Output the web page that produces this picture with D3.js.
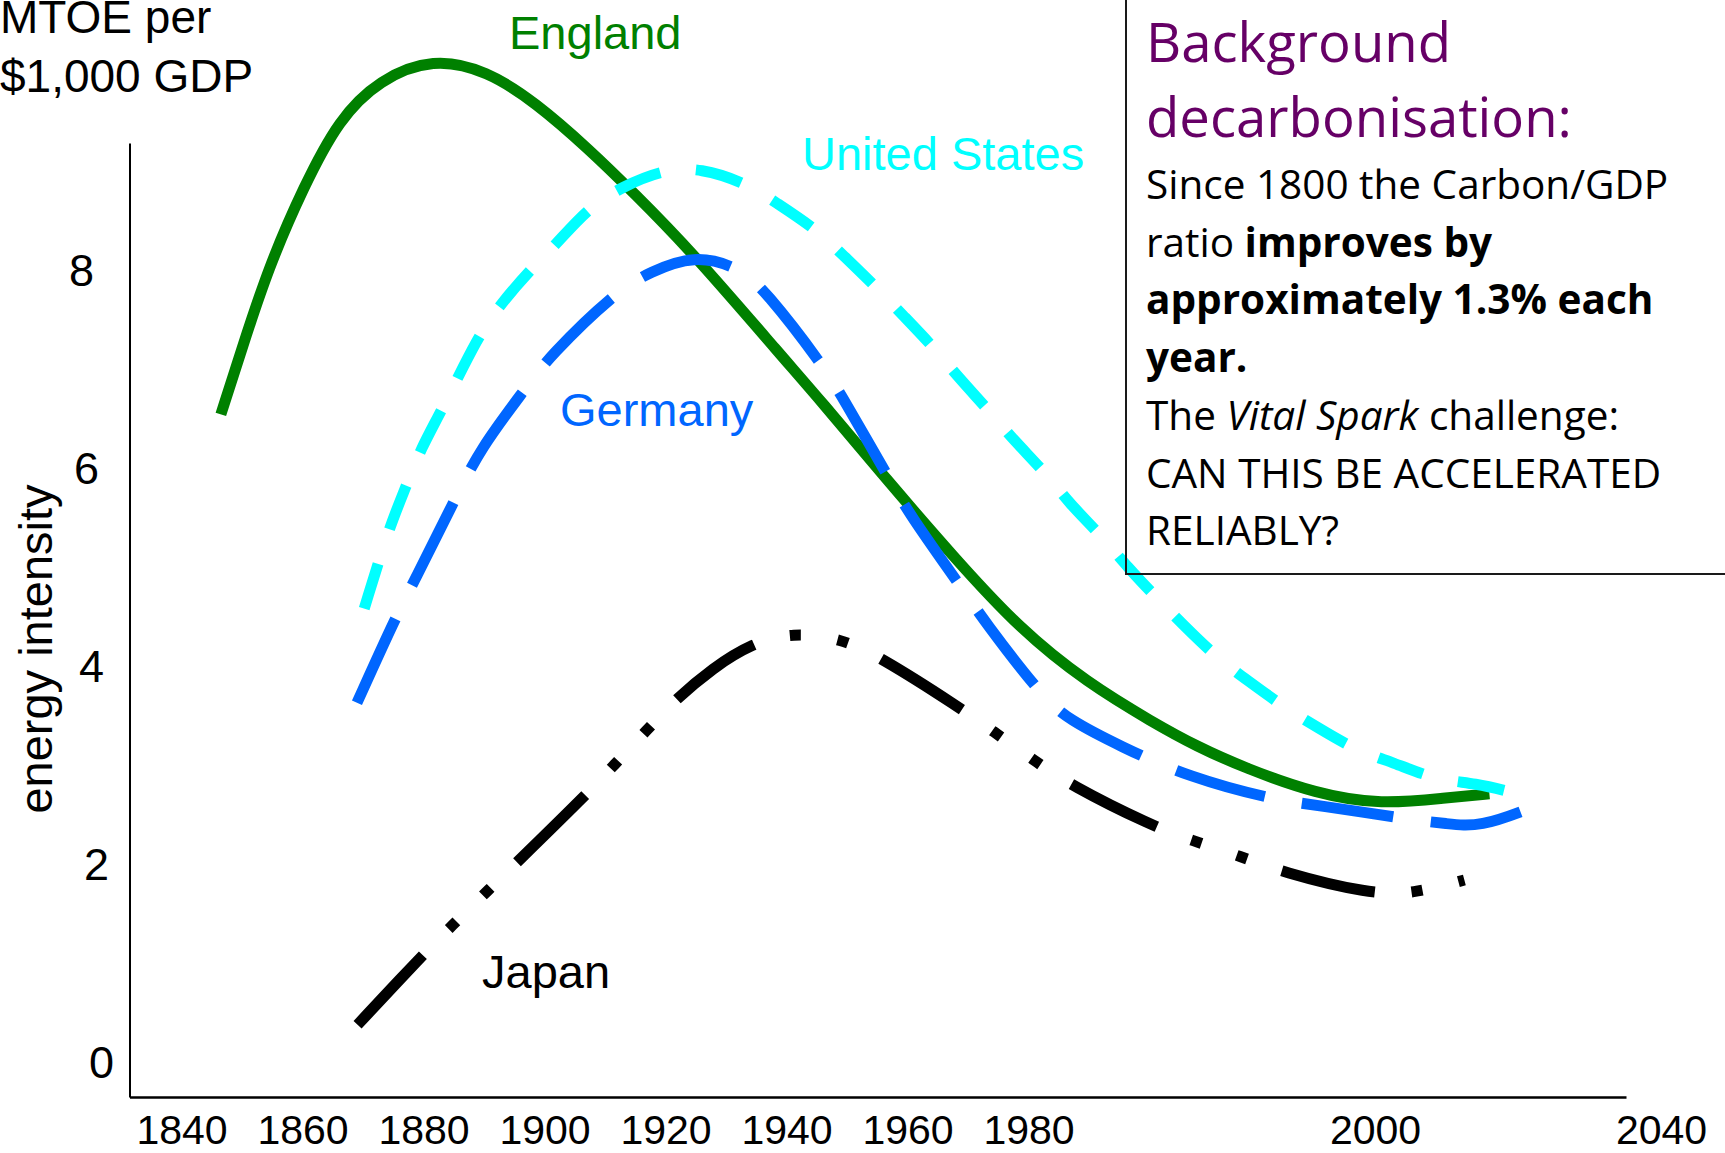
<!DOCTYPE html>
<html>
<head>
<meta charset="utf-8">
<script src="https://cdn.jsdelivr.net/npm/d3@7"></script>
<style>
  html, body { margin: 0; padding: 0; background: #fff; }
  svg { display: block; }
</style>
</head>
<body>
<svg id="chart" width="1725" height="1153"></svg>
<script>
// x tick labels as printed (the original axis is not evenly spaced after 1980)
const xTickYears = [1840, 1860, 1880, 1900, 1920, 1940, 1960, 1980, 2000, 2040];
const yTicks = [0, 2, 4, 6, 8];

// [year, MTOE per $1,000 GDP]
const england = [
  [1846.5, 6.53], [1849.8, 7.16], [1854.4, 8.02], [1860.2, 8.83], [1866.0, 9.51],
  [1872.7, 9.91], [1881.6, 10.13], [1890.5, 10.0], [1898.5, 9.68], [1907.3, 9.21],
  [1914.7, 8.77], [1924.4, 8.17], [1939.6, 7.09], [1945.5, 6.68], [1956.6, 5.87],
  [1967.5, 5.10], [1978.6, 4.36], [1983.4, 3.82], [1987.2, 3.42], [1989.7, 3.18],
  [1992.5, 2.96], [1996.6, 2.70], [2000.9, 2.59], [2010.0, 2.66], [2016.0, 2.70]
];
const unitedStates = [
  [1870.2, 4.57], [1874.2, 5.37], [1877.1, 5.80], [1879.5, 6.18], [1883.1, 6.58],
  [1889.1, 7.33], [1892.7, 7.64], [1897.8, 8.0], [1901.8, 8.24], [1907.3, 8.62],
  [1912.9, 8.83], [1919.6, 9.0], [1925.8, 9.02], [1933.5, 8.86], [1938.2, 8.67],
  [1944.9, 8.40], [1949.3, 8.14], [1954.9, 7.81], [1959.1, 7.54], [1964.6, 7.19],
  [1968.3, 6.91], [1973.6, 6.56], [1977.4, 6.28], [1981.1, 5.92], [1982.3, 5.64],
  [1984.3, 5.29], [1985.7, 4.99], [1987.5, 4.66], [1988.9, 4.41], [1990.9, 4.07],
  [1992.6, 3.85], [1994.8, 3.57], [1996.6, 3.38], [1999.0, 3.13], [2002.5, 3.02],
  [2008.5, 2.84], [2014.0, 2.81], [2020.0, 2.70]
];
const germany = [
  [1869.0, 3.62], [1875.3, 4.47], [1878.3, 4.83], [1885.2, 5.67], [1889.3, 6.18],
  [1897.1, 6.81], [1900.7, 7.11], [1911.8, 7.77], [1917.5, 7.97], [1924.7, 8.14],
  [1932.0, 8.02], [1936.4, 7.79], [1946.2, 7.01], [1949.3, 6.70], [1957.1, 5.87],
  [1960.1, 5.54], [1969.2, 4.76], [1972.5, 4.46], [1980.8, 3.68], [1982.3, 3.45],
  [1985.3, 3.18], [1989.2, 2.87], [1994.4, 2.63], [1996.6, 2.59], [2004.8, 2.44],
  [2010.0, 2.40], [2014.6, 2.36], [2022.2, 2.57]
];
const japan = [
  [1869.1, 0.37], [1879.8, 1.07], [1884.7, 1.37], [1890.4, 1.71], [1895.3, 2.0],
  [1906.7, 2.68], [1911.5, 2.99], [1916.7, 3.33], [1921.6, 3.65], [1927.8, 3.97],
  [1934.3, 4.22], [1941.0, 4.33], [1948.9, 4.27], [1955.3, 4.09], [1968.4, 3.58],
  [1974.2, 3.33], [1980.3, 3.04], [1982.4, 2.79], [1987.1, 2.38], [1989.4, 2.23],
  [1992.1, 2.08], [1994.6, 1.91], [1999.7, 1.69], [2005.2, 1.69], [2012.5, 1.83]
];

const seriesNames = ["England", "United States", "Germany", "Japan"];

const series = [
  { name: seriesNames[0], values: england, color: "#008000", dash: null },
  { name: seriesNames[1], values: unitedStates, color: "#00ffff", dash: "47,36" },
  { name: seriesNames[2], values: germany, color: "#0066ff", dash: "92,38" },
  { name: seriesNames[3], values: japan, color: "#000000", dash: "95,37,11,37,11,37" }
];

const svg = d3.select("#chart");
const font = "'Liberation Sans', Arial, sans-serif";

// piecewise scale so the printed ticks land where the original put them
const x = d3.scaleLinear()
  .domain([1831.4, 1980, 2000, 2035.1])
  .range([129.5, 1028.5, 1375, 1626]);

const y = d3.scaleLinear()
  .domain([-0.36, 9.27])
  .range([1097, 143]);

const xAxis = svg.append("g")
  .attr("transform", `translate(0, ${y(-0.36)})`)
  .call(d3.axisBottom(x).tickValues(xTickYears).tickSize(0).tickSizeOuter(0).tickFormat(d3.format("d")));
xAxis.select(".domain").attr("stroke", "#000").attr("stroke-width", 2.5);
xAxis.selectAll("text")
  .attr("y", 47)
  .attr("dy", 0)
  .style("font-family", font)
  .style("font-size", "41px")
  .style("fill", "#000");

const yAxis = svg.append("g")
  .attr("transform", `translate(${x(1831.4)}, 0)`)
  .call(d3.axisLeft(y).tickValues(yTicks).tickSize(0).tickSizeOuter(0).tickFormat(d3.format("d")));
yAxis.select(".domain").attr("stroke", "#000").attr("stroke-width", 2);
yAxis.selectAll("text")
  .attr("x", (d) => -15.5 - 2.5 * d)
  .attr("dy", "0.36em")
  .style("font-family", font)
  .style("font-size", "45px")
  .style("fill", "#000");

svg.append("text")
  .attr("transform", `translate(52, 649) rotate(-90)`)
  .attr("text-anchor", "middle")
  .style("font-family", font)
  .style("font-size", "47px")
  .text("energy intensity");

const unitLabel = svg.append("text")
  .style("font-family", font)
  .style("font-size", "46px");
unitLabel.append("tspan").attr("x", 0).attr("y", 33).text("MTOE per");
unitLabel.append("tspan").attr("x", 0).attr("y", 92).text("$1,000 GDP");

const line = d3.line()
  .x((d) => x(d[0]))
  .y((d) => y(d[1]))
  .curve(d3.curveBasis);

svg.append("g")
  .selectAll("path")
  .data(series)
  .enter()
  .append("path")
  .attr("d", (d) => line(d.values))
  .attr("fill", "none")
  .attr("stroke", (d) => d.color)
  .attr("stroke-width", 11)
  .attr("stroke-linecap", "butt")
  .attr("stroke-linejoin", "round")
  .attr("stroke-dasharray", (d) => d.dash);

// series labels
const labels = [
  { text: seriesNames[0], x: 509, y: 49, color: "#008000" },
  { text: seriesNames[1], x: 802, y: 170, color: "#00ffff" },
  { text: seriesNames[2], x: 560, y: 426, color: "#0066ff" },
  { text: seriesNames[3], x: 482, y: 988, color: "#000000" }
];
svg.append("g")
  .selectAll("text")
  .data(labels)
  .enter()
  .append("text")
  .attr("x", (d) => d.x)
  .attr("y", (d) => d.y)
  .style("font-family", font)
  .style("font-size", "47px")
  .style("fill", (d) => d.color)
  .text((d) => d.text);

// note box on the right
const box = svg.append("g");
box.append("path")
  .attr("d", "M1126,0 V574 H1725")
  .attr("fill", "none")
  .attr("stroke", "#1a1a1a")
  .attr("stroke-width", 2);

const boxFont = "'Open Sans', Lato, sans-serif";
const title = box.append("text")
  .style("font-family", boxFont)
  .style("font-size", "54.5px")
  .style("fill", "#660066");
title.append("tspan").attr("x", 1146).attr("y", 62).text("Background");
title.append("tspan").attr("x", 1146).attr("y", 137).text("decarbonisation:");

const noteLines = [
  [["Since 1800 the Carbon/GDP", "normal"]],
  [["ratio ", "normal"], ["improves by", "bold"]],
  [["approximately 1.3% each", "bold"]],
  [["year.", "bold"]],
  [["The ", "normal"], ["Vital Spark", "italic"], [" challenge:", "normal"]],
  [["CAN THIS BE ACCELERATED", "normal"]],
  [["RELIABLY?", "normal"]]
];

noteLines.forEach((parts, i) => {
  const t = box.append("text")
    .attr("x", 1146)
    .attr("y", 199 + i * 57.7)
    .style("font-family", boxFont)
    .style("font-size", "40.5px")
    .style("fill", "#000");
  parts.forEach(([txt, style]) => {
    t.append("tspan")
      .style("font-weight", style === "bold" ? "bold" : "normal")
      .style("font-style", style === "italic" ? "italic" : "normal")
      .text(txt);
  });
});
</script>
</body>
</html>
